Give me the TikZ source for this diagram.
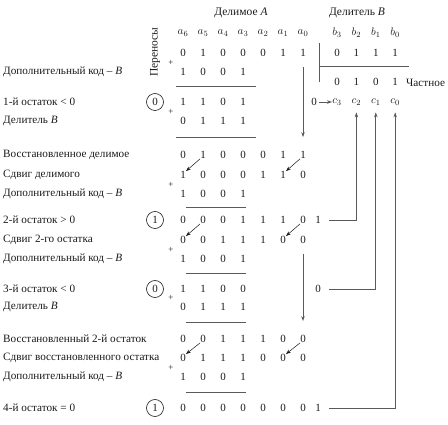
\documentclass[tikz,border=0pt]{standalone}
\usepackage{fontspec}
\setmainfont{Liberation Serif}
\usetikzlibrary{arrows.meta, positioning, calc}

\definecolor{ink}{HTML}{1A1A1A}
\definecolor{rulegray}{HTML}{5A5A5A}

\tikzset{
  % digits and texts
  bit/.style={inner sep=0pt, font=\fontsize{11}{13}\selectfont, text=ink},
  rowlabel/.style={anchor=west, inner sep=0pt, font=\fontsize{11.2}{13}\selectfont, text=ink},
  headlabel/.style={inner sep=0pt, font=\fontsize{11.5}{13}\selectfont, text=ink},
  carry/.style={circle, draw=ink, line width=0.6pt, minimum size=17pt, inner sep=0pt,
    font=\fontsize{11}{13}\selectfont, text=ink},
  plus/.style={inner sep=0pt, font=\fontsize{9}{10}\selectfont, text=ink},
  % lines
  sumrule/.style={draw=rulegray, line width=0.9pt},
  shiftarrow/.style={-{Stealth[length=5pt, width=3.5pt]}, draw=ink, line width=0.5pt},
  feed/.style={-{Stealth[length=5pt, width=3.5pt]}, draw=rulegray, line width=0.8pt},
}

\begin{document}
\begin{tikzpicture}[x=1pt, y=-1pt]
  \useasboundingbox (0,0) rectangle (448,425);

  % headers
  \node[headlabel] (dividend) at (241,13) {Делимое \textit{A}};
  \node[headlabel] (divisor) at (357,13) {Делитель \textit{B}};
  \node[headlabel, rotate=90] (carries) at (155,52) {Переносы};

  % bit indices
  \foreach \i [count=\k from 0] in {6,...,0}
    \node[bit] (a\i) at (183+20*\k,33) {$a_{\i}$};
  \foreach \i [count=\k from 0] in {3,...,0}{
    \node[bit] (b\i) at (337+19.4*\k,33) {$b_{\i}$};
    \node[bit] (c\i) at (337+19.4*\k,102) {$c_{\i}$};
  }

  % divisor and quotient
  \foreach \v [count=\k from 0] in {0,1,1,1}
    \node[bit] (dv\k) at (337+19.4*\k,53) {\v};
  \foreach \v [count=\k from 0] in {0,1,0,1}
    \node[bit] (qt\k) at (337+19.4*\k,82) {\v};
  \node[rowlabel] (qlabel) at (406,83) {Частное};

  \coordinate (vtop) at (319,43);
  \coordinate (vbot) at (319,82);
  \coordinate (hend) at (409,66);
  \draw[sumrule] (vtop) -- (vbot);
  \draw[sumrule] (vtop |- hend) -- (hend);

  % dividend and remainders
  \foreach \r/\y/\bits in {0/53/{0,1,0,0,0,1,1}, 1/72/{1,0,0,1}, 2/102/{1,1,0,1},
      3/121/{0,1,1,1}, 4/155/{0,1,0,0,0,1,1}, 5/175/{1,0,0,0,1,1,0}, 6/194/{1,0,0,1},
      7/220/{0,0,0,1,1,1,0}, 8/240/{0,0,1,1,1,0,0}, 9/259/{1,0,0,1}, 10/289/{1,1,0,0},
      11/307/{0,1,1,1}, 12/339/{0,0,1,1,1,0,0}, 13/358/{0,1,1,1,0,0,0}, 14/377/{1,0,0,1},
      15/408/{0,0,0,0,0,0,0}}
    \foreach \v [count=\k from 0] in \bits
      \node[bit] (d\r-\k) at (183+20*\k,\y) {\v};

  % row texts
  \foreach \r/\y/\txt in {1/72/{Дополнительный код – \textit{B}}, 2/102/{1-й остаток < 0},
      3/121/{Делитель \textit{B}}, 4/155/{Восстановленное делимое}, 5/175/{Сдвиг делимого},
      6/194/{Дополнительный код – \textit{B}}, 7/220/{2-й остаток > 0},
      8/240/{Сдвиг 2-го остатка}, 9/259/{Дополнительный код – \textit{B}},
      10/289/{3-й остаток < 0}, 11/307/{Делитель \textit{B}},
      12/339/{Восстановленный 2-й остаток}, 13/358/{Сдвиг восстановленного остатка},
      14/377/{Дополнительный код – \textit{B}}, 15/408/{4-й остаток = 0}}
    \node[rowlabel] (l\r) at (3,\y) {\txt};

  % carries
  \foreach \r/\y/\v in {2/102/0, 7/220/1, 10/289/0, 15/408/1}
    \node[carry] (cy\r) at (155,\y) {\v};
  \foreach \y [count=\n] in {63,112,185,250,298,368}
    \node[plus] (p\n) at (171,\y) {+};

  % quotient bits
  \node[bit] (q2) at (314,102) {0};
  \node[bit] (q7) at (318,220) {1};
  \node[bit] (q10) at (318,289) {0};
  \node[bit] (q15) at (318,408) {1};

  % sum rules
  \foreach \y in {86,137}
    \draw[sumrule] (176,\y) -- (256,\y);
  \foreach \y in {207,273,322,392}
    \draw[sumrule] (186,\y) -- (246,\y);

  % shifts
  \foreach \r/\s in {4/5, 7/8, 12/13}{
    \draw[shiftarrow] (d\r-1.south west) -- (d\s-0.north east);
    \draw[shiftarrow] (d\r-6.south west) -- (d\s-5.north east);
  }
  \draw[feed, shorten <=10pt, shorten >=14pt] (d0-6) -- (d4-6);
  \draw[feed, shorten <=10pt, shorten >=14pt] (d8-6) -- (d12-6);

  % into the quotient
  \draw[feed, shorten <=2pt] (q2.east) -- (c3.west);
  \draw[feed, shorten <=8pt, shorten >=7pt] (q7.east) -| (c2.south);
  \draw[feed, shorten <=8pt, shorten >=7pt] (q10.east) -| (c1.south);
  \draw[feed, shorten <=8pt, shorten >=7pt] (q15.east) -| (c0.south);
\end{tikzpicture}
\end{document}
